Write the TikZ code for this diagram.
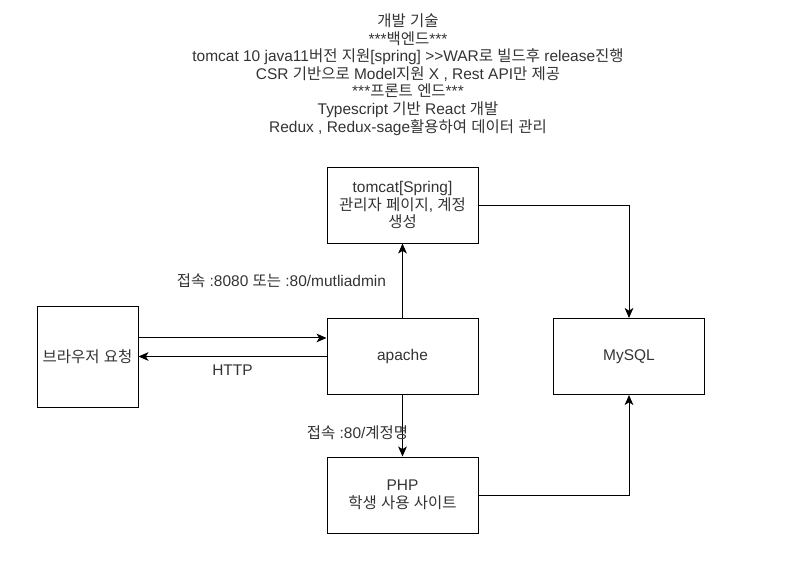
\documentclass[tikz,border=0pt]{standalone}
\usepackage{fontspec}
\setmainfont{Liberation Sans}
\newfontfamily\krfont{Noto Sans CJK KR}
\usetikzlibrary{arrows.meta}
\definecolor{txt}{RGB}{51,51,51}
\XeTeXinterchartokenstate=1
\newXeTeXintercharclass\HangulClass
\count255="AC00
\loop\XeTeXcharclass\count255=\HangulClass\ifnum\count255<"D7A3 \advance\count255 by 1 \repeat
\XeTeXinterchartoks 0 \HangulClass = {\begingroup\krfont}
\XeTeXinterchartoks 4095 \HangulClass = {\begingroup\krfont}
\XeTeXinterchartoks \HangulClass 0 = {\endgroup}
\XeTeXinterchartoks \HangulClass 4095 = {\endgroup}
\begin{document}
\begin{tikzpicture}[x=0.75pt,y=-0.75pt,
  box/.style={draw=black, text=txt, line width=0.75pt, minimum width=113.25pt, minimum height=57pt, inner sep=1pt, align=center, font=\fontsize{11.6pt}{13.2pt}\selectfont},
  arr/.style={line width=0.75pt, -{Stealth[length=7.5pt,width=6.5pt,inset=2pt]}},
  lbl/.style={text=txt, font=\fontsize{11.6pt}{13.2pt}\selectfont, inner sep=0pt}]
\useasboundingbox (0,0) rectangle (809,586);
\node[lbl, align=center, font=\fontsize{11.6pt}{13.2pt}\selectfont] (title) at (408,74.5) {개발 기술\\***백엔드***\\tomcat 10 java11버전 지원[spring] {>}{>}WAR로 빌드후 release진행\\CSR 기반으로 Model지원 X , Rest API만 제공\\***프론트 엔드***\\Typescript 기반 React 개발\\Redux , Redux-sage활용하여 데이터 관리};
\node[box] (tomcat) at (402.5,205) {tomcat[Spring]\\관리자 페이지, 계정\\생성};
\node[box] (apache) at (402.5,356.5) {apache};
\node[box] (php) at (402.5,495) {PHP\\학생 사용 사이트};
\node[box] (mysql) at (629,356.5) {MySQL};
\node[box, minimum width=75.75pt, minimum height=75.75pt] (browser) at (87.5,356.5) {브라우저 요청};
\draw[arr] ([yshift=13.9pt]browser.east) -- ([yshift=13.9pt]apache.west);
\draw[arr] (apache.west) -- node[lbl, midway, yshift=-10pt] (http) {HTTP} (browser.east);
\draw[arr] (apache.north) -- node[lbl, midway, anchor=east, xshift=-12pt] (l8080) {접속 :8080 또는 :80/mutliadmin} (tomcat.south);
\draw[arr] (apache.south) -- node[lbl, midway, xshift=-33.75pt, yshift=-4.9pt] (l80) {접속 :80/계정명} (php.north);
\draw[arr] (tomcat.east) -| (mysql.north);
\draw[arr] (php.east) -| (mysql.south);
\end{tikzpicture}
\end{document}
